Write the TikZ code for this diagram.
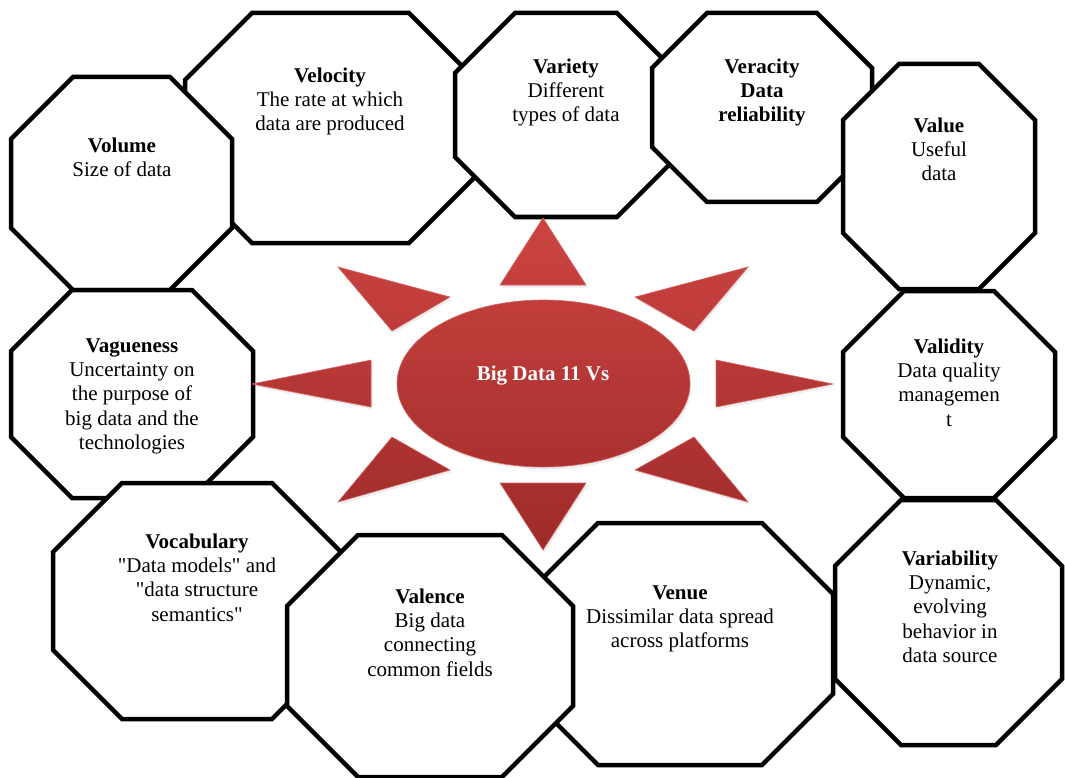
\documentclass[tikz,border=0pt]{standalone}
\usepackage{fontspec}
\setmainfont{Liberation Serif}
\usetikzlibrary{shapes.geometric,shadows}
\definecolor{sunA}{RGB}{204,68,66}
\definecolor{sunB}{RGB}{158,43,41}
\definecolor{sunEdge}{RGB}{214,100,98}
\newcommand\octagonbox[5]{%
  \filldraw[octo] ({#1+#5},#2) -- ({#3-#5},#2) -- (#3,{#2+#5}) -- (#3,{#4-#5})
    -- ({#3-#5},#4) -- ({#1+#5},#4) -- (#1,{#4-#5}) -- (#1,{#2+#5}) -- cycle;}
\begin{document}
\begin{tikzpicture}[x=1pt,y=-1pt,
  octo/.style={draw=black, fill=white, line width=4.5pt, line join=miter},
  vtext/.style={anchor=north, inner sep=0pt, align=center,
                font=\fontsize{21}{24.3}\selectfont},
  ray/.style={draw=sunEdge, line width=0.6pt,
              drop shadow={opacity=0.15, shadow xshift=1.5pt, shadow yshift=-2.5pt}},
]
\useasboundingbox (0,0) rectangle (1065,778);

% octagons (drawing order gives the overlaps)
\octagonbox{185}{13}{476}{243}{67}   % Velocity
\octagonbox{11}{77}{232}{290}{62}    % Volume
\octagonbox{455}{13}{677}{217}{60}   % Variety
\octagonbox{652}{13}{872}{202}{55}   % Veracity
\octagonbox{843}{64}{1035}{289}{56}  % Value
\octagonbox{843}{291}{1055}{498}{61} % Validity
\octagonbox{11}{290}{253}{498}{61}   % Vagueness
\octagonbox{53}{483}{341}{719}{69}   % Vocabulary
\octagonbox{527}{523}{833}{765}{71}  % Venue
\octagonbox{287}{535}{573}{777}{71}  % Valence
\octagonbox{835}{500}{1062}{745}{66} % Variability

% texts
\node (volume) [vtext] at (122,135) {\strut\textbf{Volume}\\Size of data};
\node (velocity) [vtext] at (330,65) {\strut\textbf{Velocity}\\The rate at which\\data are produced};
\node (variety) [vtext] at (566,56) {\strut\textbf{Variety}\\Different\\types of data};
\node (veracity) [vtext, font=\fontsize{21}{24.3}\selectfont\bfseries] at (762,56) {\strut Veracity\\Data\\reliability};
\node (value) [vtext] at (939,115) {\strut\textbf{Value}\\Useful\\data};
\node (vagueness) [vtext] at (132,335) {\strut\textbf{Vagueness}\\Uncertainty on\\the purpose of\\big data and the\\technologies};
\node (validity) [vtext] at (949,336) {\strut\textbf{Validity}\\Data quality\\managemen\\t};
\node (vocabulary) [vtext] at (197,531) {\strut\textbf{Vocabulary}\\\textquotedbl Data models\textquotedbl{} and\\\textquotedbl data structure\\semantics\textquotedbl};
\node (valence) [vtext] at (430,586) {\strut\textbf{Valence}\\Big data\\connecting\\common fields};
\node (venue) [vtext] at (680,582) {\strut\textbf{Venue}\\Dissimilar data spread\\across platforms};
\node (variability) [vtext] at (950,548) {\strut\textbf{Variability}\\Dynamic,\\evolving\\behavior in\\data source};

% sun
\path[ray, top color=sunA, bottom color=sunB!20!sunA] (543,218) -- (586,285) -- (500,285) -- cycle;
\path[ray, top color=sunB!15!sunA, bottom color=sunB!34!sunA] (338,267) -- (450,297) -- (392,331) -- cycle;
\path[ray, top color=sunB!15!sunA, bottom color=sunB!34!sunA] (748,267) -- (635,297) -- (694,331) -- cycle;
\path[ray, top color=sunB!43!sunA, bottom color=sunB!57!sunA] (252,384) -- (371,360) -- (371,407) -- cycle;
\path[ray, top color=sunB!43!sunA, bottom color=sunB!57!sunA] (833,384) -- (716,360) -- (716,407) -- cycle;
\path[ray, top color=sunB!66!sunA, bottom color=sunB!86!sunA] (392,437) -- (450,470) -- (338,502) -- cycle;
\path[ray, top color=sunB!66!sunA, bottom color=sunB!86!sunA] (694,437) -- (635,470) -- (748,502) -- cycle;
\path[ray, top color=sunB!80!sunA, bottom color=sunB] (500,483) -- (586,483) -- (543,550) -- cycle;

\node (hub) [ellipse, ray, inner sep=0pt, minimum width=293pt, minimum height=167pt,
  top color=sunB!25!sunA, bottom color=sunB!75!sunA] at (543.5,383.5) {};
\node (hubtext) [anchor=base, inner sep=0pt, text=white,
  font=\fontsize{21}{24}\selectfont\bfseries] at (543,380) {Big Data 11 Vs};
\end{tikzpicture}
\end{document}
